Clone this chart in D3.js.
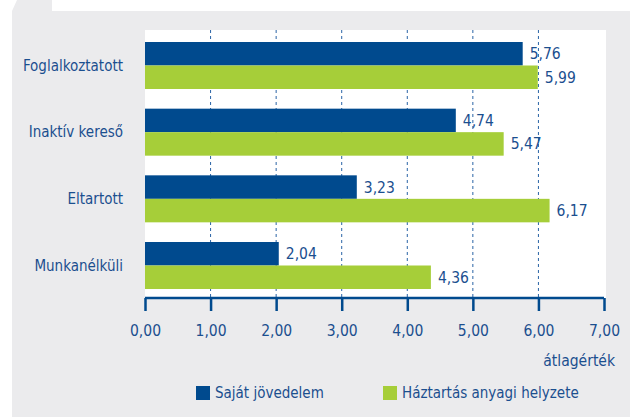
<!DOCTYPE html>
<html>
<head>
<meta charset="utf-8">
<script src="https://cdn.jsdelivr.net/npm/d3@7"></script>
<style>
  body { margin: 0; background: #fff; }
  svg text { font-family: "DejaVu Sans Condensed", "Liberation Sans Narrow", sans-serif; fill: #1b4f8f; }
</style>
</head>
<body>
<svg id="chart" width="630" height="417"></svg>
<script>
const categories = ["Foglalkoztatott", "Inaktív kereső", "Eltartott", "Munkanélküli"];
const sajat = [5.76, 4.74, 3.23, 2.04];
const haztartas = [5.99, 5.47, 6.17, 4.36];
const series = [
  {name: "Saját jövedelem", values: sajat, color: "#004a8e"},
  {name: "Háztartás anyagi helyzete", values: haztartas, color: "#a6ce39"}
];
const ticks = [0, 1, 2, 3, 4, 5, 6, 7];

const svg = d3.select("#chart");
const fmt = v => d3.format(".2f")(v).replace(".", ",");
const fs = 15.5;

// grey panel with the little tab at top left
svg.append("path")
  .attr("d", "M12,11 L17,0 L52,0 L52,11 L630,11 L630,417 L12,417 Z")
  .attr("fill", "#ebebed");

const x = d3.scaleLinear().domain([0, 7]).range([145, 604]);
const y = d3.scaleBand().domain(categories).range([32, 299])
  .paddingInner(0.295).paddingOuter(0.15);
const ySub = d3.scaleBand().domain([0, 1]).range([0, y.bandwidth()]);

// white plot area
svg.append("rect")
  .attr("x", 145).attr("y", 30)
  .attr("width", 461).attr("height", 268)
  .attr("fill", "#fff");

// dashed grid
svg.append("g").selectAll("line")
  .data(ticks.filter(t => t > 0 && t < 7))
  .enter().append("line")
  .attr("x1", d => x(d)).attr("x2", d => x(d))
  .attr("y1", 30).attr("y2", 298)
  .attr("stroke", "#2a64a6")
  .attr("stroke-width", 1)
  .attr("stroke-dasharray", "3,3");

// bars
const groups = svg.append("g").selectAll("g")
  .data(categories)
  .enter().append("g")
  .attr("transform", d => `translate(0,${y(d)})`);

groups.selectAll("rect")
  .data((c, i) => series.map((s, j) => ({j: j, v: s.values[i], color: s.color})))
  .enter().append("rect")
  .attr("x", x(0))
  .attr("y", d => ySub(d.j))
  .attr("width", d => x(d.v) - x(0))
  .attr("height", ySub.bandwidth())
  .attr("fill", d => d.color);

groups.selectAll("text.val")
  .data((c, i) => series.map((s, j) => ({j: j, v: s.values[i]})))
  .enter().append("text")
  .attr("class", "val")
  .attr("x", d => x(d.v) + 7)
  .attr("y", d => ySub(d.j) + ySub.bandwidth() / 2)
  .attr("dy", "0.35em")
  .attr("font-size", fs)
  .text(d => fmt(d.v));

// category labels
svg.append("g").selectAll("text")
  .data(categories)
  .enter().append("text")
  .attr("x", 123)
  .attr("y", d => y(d) + y.bandwidth() / 2)
  .attr("dy", "0.35em")
  .attr("text-anchor", "end")
  .attr("font-size", 15)
  .text(d => d);

// x axis
const axis = svg.append("g").attr("transform", "translate(0,298)")
  .call(d3.axisBottom(x).tickValues(ticks).tickSize(13).tickPadding(14).tickFormat(fmt));
axis.select(".domain").attr("stroke", "#004a8e").attr("stroke-width", 2.5)
  .attr("d", `M${x(0)},0H${x(7)}`);
axis.selectAll(".tick line").attr("stroke", "#004a8e").attr("stroke-width", 2.5);
axis.selectAll(".tick text")
  .attr("font-size", fs)
  .attr("fill", "#1b4f8f")
  .style("font-family", '"DejaVu Sans Condensed", "Liberation Sans Narrow", sans-serif');

svg.append("text")
  .attr("x", 615).attr("y", 366)
  .attr("text-anchor", "end")
  .attr("font-size", fs)
  .text("átlagérték");

// legend
const legendX = [196, 383];
const legend = svg.append("g").selectAll("g")
  .data(series)
  .enter().append("g")
  .attr("transform", (d, i) => `translate(${legendX[i]},386)`);
legend.append("rect")
  .attr("width", 14).attr("height", 14)
  .attr("fill", d => d.color);
legend.append("text")
  .attr("x", 19).attr("y", 7)
  .attr("dy", "0.35em")
  .attr("font-size", 15)
  .text(d => d.name);
</script>
</body>
</html>
